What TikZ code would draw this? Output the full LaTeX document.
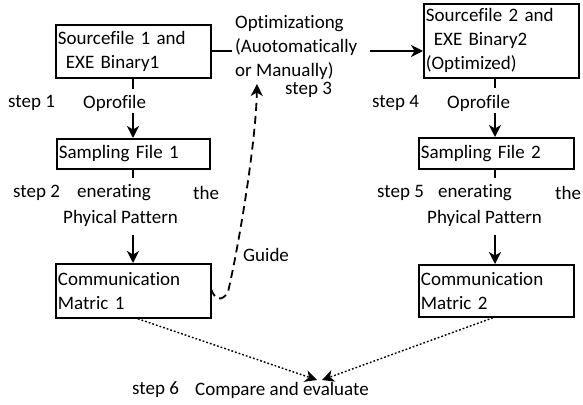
\documentclass[tikz,border=0pt]{standalone}
\usepackage{fontspec}
\setmainfont{Carlito}[Ligatures=NoCommon]
\usetikzlibrary{arrows.meta}

\tikzset{
  box/.style={draw, line width=1.8pt, anchor=north west, align=left, inner xsep=2pt, inner ysep=0pt},
  lbl/.style={anchor=west, inner sep=0pt},
  ln/.style={line width=1.8pt},
  arr/.style={line width=1.8pt, -{Stealth[length=12pt, width=12pt, inset=3.5pt]}},
}

\begin{document}
\begin{tikzpicture}[x=1pt, y=-1pt, font=\fontsize{19}{24}\selectfont]
\useasboundingbox (0,0) rectangle (583,404);
% boxes
\node[box, text width=151pt, minimum height=53pt] (src1) at (55,24) {Sourcefile 1 and\\\hspace*{8pt}EXE Binary1};
\node[box, text width=151pt, minimum height=74pt] (src2) at (423,3) {Sourcefile 2 and\\\hspace*{8pt}EXE Binary2\\(Optimized)};
\node[box, text width=149pt, minimum height=30pt] (samp1) at (56,138) {Sampling File 1};
\node[box, text width=151pt, minimum height=31pt] (samp2) at (418,137) {Sampling File 2};
\node[box, text width=151pt, minimum height=54pt] (comm1) at (55,263) {Communication\\Matric 1};
\node[box, text width=151pt, minimum height=52pt] (comm2) at (418,264) {Communication\\Matric 2};
% labels
\node[lbl, align=left] (opt) at (235,47) {Optimizationg\\(Auotomatically\\or Manually)};
\node[lbl] (step1) at (8,103) {step 1};
\node[lbl] (oprof1) at (83,103) {Oprofile};
\node[lbl] (step2) at (13,193) {step 2};
\node[lbl] (gen1) at (77,193) {enerating};
\node[lbl] (the1) at (193,193) {the};
\node[lbl] (phy1) at (63,218) {Phyical Pattern};
\node[lbl] (step3) at (285,90) {step 3};
\node[lbl] (step4) at (372,103) {step 4};
\node[lbl] (oprof2) at (447,103) {Oprofile};
\node[lbl] (step5) at (377,193) {step 5};
\node[lbl] (gen2) at (438,193) {enerating};
\node[lbl] (the2) at (555,193) {the};
\node[lbl] (phy2) at (427,218) {Phyical Pattern};
\node[lbl] (guide) at (243,255) {Guide};
\node[lbl] (step6) at (132,390) {step 6};
\node[lbl] (cmp) at (195,390) {Compare and evaluate};
% free ends
\coordinate (a1) at (133,89);
\coordinate (b1) at (133,113);
\coordinate (c1) at (133,178);
\coordinate (d1) at (133,235);
\coordinate (a2) at (495,88);
\coordinate (b2) at (495,113);
\coordinate (c2) at (495,178);
\coordinate (d2) at (495,235);
\coordinate (e1) at (232,51);
\coordinate (e2) at (370,51);
\coordinate (g0) at (211,289);
\coordinate (g1) at (257,84);
\coordinate (tipL) at (317,380);
\coordinate (tipR) at (322,380);
% connectors
\draw[ln] (src1.south -| a1) -- (a1);
\draw[arr] (b1) -- (samp1.north -| b1);
\draw[ln] (samp1.south -| c1) -- (c1);
\draw[arr] (d1) -- (comm1.north -| d1);
\draw[ln] (src2.south -| a2) -- (a2);
\draw[arr] (b2) -- (samp2.north -| b2);
\draw[ln] (samp2.south -| c2) -- (c2);
\draw[arr] (d2) -- (comm2.north -| d2);
\draw[ln] (src1.east |- e1) -- (e1);
\draw[arr] (e2) -- (src2.west |- e2);
\draw[arr, dash pattern=on 8pt off 5pt] (g0) .. controls (215,300) and (222,302) .. (228,292) .. controls (240,240) and (256,140) .. (g1);
\draw[arr, dotted, line width=1.4pt] ([xshift=4.5pt]comm1.south) -- (tipL);
\draw[arr, dotted, line width=1.4pt] ([xshift=-3.5pt]comm2.south) -- (tipR);
\end{tikzpicture}
\end{document}
